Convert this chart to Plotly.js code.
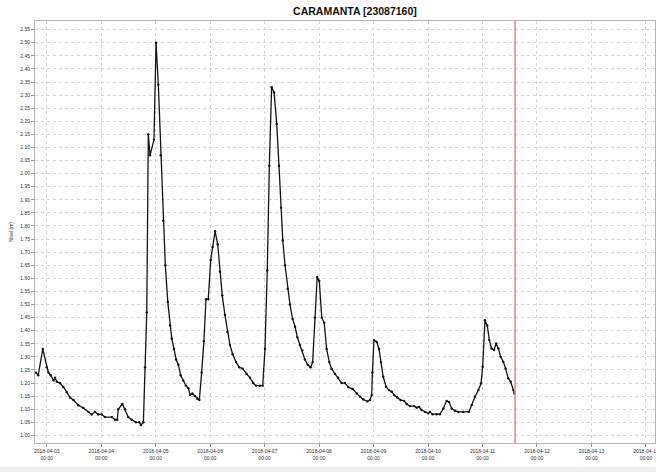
<!DOCTYPE html>
<html>
<head>
<meta charset="utf-8">
<script src="https://cdn.plot.ly/plotly-3.0.1.min.js"></script>
<style>
  html, body { margin: 0; padding: 0; background: #ffffff; }
  #chart { width: 656px; height: 472px; }
</style>
</head>
<body>
<div id="chart"></div>
<script>
const chartTitle = "CARAMANTA [23087160]";
const yTitle = "Nivel (m)";

const times = [
  "2018-04-02 19:15","2018-04-02 20:15","2018-04-02 22:15","2018-04-03 00:00","2018-04-03 00:45",
  "2018-04-03 01:45","2018-04-03 03:00","2018-04-03 03:40","2018-04-03 04:25","2018-04-03 05:50",
  "2018-04-03 07:20","2018-04-03 08:50","2018-04-03 10:15","2018-04-03 11:45","2018-04-03 13:55",
  "2018-04-03 16:05","2018-04-03 18:20","2018-04-03 19:50","2018-04-03 21:15","2018-04-03 22:45",
  "2018-04-04 00:15","2018-04-04 01:40","2018-04-04 04:40","2018-04-04 06:05","2018-04-04 07:05",
  "2018-04-04 07:30","2018-04-04 09:20","2018-04-04 10:30","2018-04-04 11:55","2018-04-04 13:25",
  "2018-04-04 15:20","2018-04-04 16:45","2018-04-04 17:30","2018-04-04 18:35","2018-04-04 19:20",
  "2018-04-04 20:05","2018-04-04 20:45","2018-04-04 21:30","2018-04-04 23:15","2018-04-05 00:10",
  "2018-04-05 01:10","2018-04-05 02:15","2018-04-05 03:20","2018-04-05 04:15","2018-04-05 05:20",
  "2018-04-05 06:20","2018-04-05 07:05","2018-04-05 08:05","2018-04-05 09:00","2018-04-05 10:00",
  "2018-04-05 11:00","2018-04-05 12:10","2018-04-05 13:20","2018-04-05 14:25","2018-04-05 15:10",
  "2018-04-05 16:10","2018-04-05 17:20","2018-04-05 18:20","2018-04-05 19:15","2018-04-05 20:15",
  "2018-04-05 21:15","2018-04-05 22:10","2018-04-05 23:10","2018-04-06 00:15","2018-04-06 01:05",
  "2018-04-06 02:10","2018-04-06 03:20","2018-04-06 04:20","2018-04-06 05:20","2018-04-06 06:30",
  "2018-04-06 07:35","2018-04-06 08:45","2018-04-06 09:55","2018-04-06 11:25","2018-04-06 12:50",
  "2018-04-06 14:20","2018-04-06 16:05","2018-04-06 17:35","2018-04-06 19:00","2018-04-06 20:10",
  "2018-04-06 21:55","2018-04-06 23:10","2018-04-07 00:10","2018-04-07 01:10","2018-04-07 02:05",
  "2018-04-07 03:05","2018-04-07 04:10","2018-04-07 05:20","2018-04-07 06:20","2018-04-07 07:15",
  "2018-04-07 08:00","2018-04-07 09:00","2018-04-07 10:10","2018-04-07 11:10","2018-04-07 12:20",
  "2018-04-07 13:25","2018-04-07 14:25","2018-04-07 15:35","2018-04-07 16:35","2018-04-07 17:45",
  "2018-04-07 19:00","2018-04-07 20:15","2018-04-07 21:10","2018-04-07 22:10","2018-04-07 23:10",
  "2018-04-08 00:05","2018-04-08 01:10","2018-04-08 02:15","2018-04-08 03:20","2018-04-08 04:30",
  "2018-04-08 05:30","2018-04-08 07:00","2018-04-08 08:25","2018-04-08 09:55","2018-04-08 11:25",
  "2018-04-08 12:50","2018-04-08 14:50","2018-04-08 16:35","2018-04-08 18:00","2018-04-08 19:30",
  "2018-04-08 21:15","2018-04-08 22:25","2018-04-08 23:10","2018-04-08 23:30","2018-04-09 00:10",
  "2018-04-09 01:25","2018-04-09 02:25","2018-04-09 03:15","2018-04-09 04:15","2018-04-09 05:30",
  "2018-04-09 06:45","2018-04-09 08:00","2018-04-09 09:05","2018-04-09 10:25","2018-04-09 11:55",
  "2018-04-09 13:25","2018-04-09 14:35","2018-04-09 16:00","2018-04-09 17:55","2018-04-09 19:00",
  "2018-04-09 20:00","2018-04-09 21:10","2018-04-09 22:40","2018-04-10 00:05","2018-04-10 00:50",
  "2018-04-10 02:00","2018-04-10 03:50","2018-04-10 05:15","2018-04-10 06:45","2018-04-10 08:10",
  "2018-04-10 09:15","2018-04-10 10:25","2018-04-10 11:50","2018-04-10 13:20","2018-04-10 15:30",
  "2018-04-10 18:00","2018-04-10 19:15","2018-04-10 20:40","2018-04-10 22:10","2018-04-10 23:20",
  "2018-04-11 00:05","2018-04-11 01:05","2018-04-11 02:05","2018-04-11 03:00","2018-04-11 04:00",
  "2018-04-11 05:05","2018-04-11 06:00","2018-04-11 07:00","2018-04-11 08:00","2018-04-11 09:10",
  "2018-04-11 10:10","2018-04-11 11:20","2018-04-11 12:25","2018-04-11 13:35","2018-04-11 14:05"
];

const levels = [
  1.24,1.23,1.33,1.26,1.24,
  1.23,1.21,1.22,1.205,1.20,
  1.185,1.165,1.145,1.135,1.115,
  1.105,1.09,1.08,1.09,1.08,
  1.08,1.07,1.07,1.06,1.06,
  1.10,1.12,1.10,1.07,1.06,
  1.05,1.05,1.04,1.05,1.26,
  1.47,2.15,2.07,2.13,2.50,
  2.34,2.07,1.82,1.65,1.51,
  1.42,1.37,1.33,1.29,1.27,
  1.23,1.21,1.19,1.18,1.155,
  1.16,1.15,1.14,1.135,1.24,
  1.36,1.52,1.52,1.67,1.72,
  1.78,1.73,1.625,1.535,1.46,
  1.395,1.345,1.31,1.28,1.26,
  1.255,1.235,1.22,1.20,1.19,
  1.19,1.19,1.33,1.63,2.03,
  2.33,2.31,2.19,2.03,1.87,
  1.745,1.65,1.56,1.50,1.445,
  1.415,1.375,1.345,1.325,1.29,
  1.27,1.26,1.28,1.45,1.605,
  1.59,1.45,1.43,1.33,1.28,
  1.255,1.235,1.22,1.20,1.20,
  1.185,1.177,1.16,1.148,1.137,
  1.13,1.135,1.154,1.24,1.364,
  1.357,1.33,1.28,1.224,1.186,
  1.173,1.167,1.154,1.145,1.135,
  1.132,1.12,1.112,1.112,1.106,
  1.109,1.097,1.09,1.084,1.09,
  1.081,1.081,1.081,1.103,1.132,
  1.128,1.103,1.094,1.09,1.09,
  1.09,1.116,1.148,1.173,1.198,
  1.262,1.44,1.42,1.364,1.332,
  1.326,1.351,1.332,1.30,1.281,
  1.256,1.218,1.205,1.173,1.16
];

const nowMarker = "2018-04-11 14:20";

const xTickVals = ["2018-04-03","2018-04-04","2018-04-05","2018-04-06","2018-04-07","2018-04-08",
                   "2018-04-09","2018-04-10","2018-04-11","2018-04-12","2018-04-13","2018-04-14"];
const xTickText = xTickVals.map(d => d + "<br>00:00");

const trace = {
  x: times, y: levels, type: "scatter", mode: "lines+markers",
  line: { color: "#151515", width: 1.3 },
  marker: { color: "#151515", size: 2.4 },
  hoverinfo: "skip", showlegend: false
};

const layout = {
  width: 656, height: 472,
  margin: { l: 35, r: 1, t: 21, b: 29, pad: 0 },
  paper_bgcolor: "#ffffff", plot_bgcolor: "#ffffff",
  font: { family: "Liberation Sans, Arial, sans-serif", color: "#333333", size: 5 },
  title: { text: "<b>" + chartTitle + "</b>", x: 0.516, xref: "paper", xanchor: "center",
           y: 0.976, yanchor: "middle", font: { size: 10.5, color: "#111111" } },
  xaxis: {
    type: "date", range: ["2018-04-02 18:50", "2018-04-14 04:00"],
    tickmode: "array", tickvals: xTickVals, ticktext: xTickText,
    ticklabeloverflow: "allow",
    ticks: "outside", ticklen: 3, tickcolor: "#999999",
    tickfont: { size: 5, color: "#333333" },
    showgrid: true, gridcolor: "#d6d6d6", griddash: "dot", gridwidth: 1,
    showline: true, linecolor: "#b5b5b5", linewidth: 1, mirror: true,
    zeroline: false
  },
  yaxis: {
    range: [0.971, 2.583], dtick: 0.05, tick0: 1.0, tickformat: ".2f",
    ticks: "outside", ticklen: 3, tickcolor: "#999999",
    tickfont: { size: 5, color: "#333333" },
    showgrid: true, gridcolor: "#d6d6d6", griddash: "dot", gridwidth: 1,
    showline: true, linecolor: "#b5b5b5", linewidth: 1, mirror: true,
    zeroline: false,
    title: { text: yTitle, font: { size: 5, color: "#333333" }, standoff: 6 }
  },
  shapes: [
    { type: "line", xref: "x", yref: "paper", x0: nowMarker, x1: nowMarker, y0: 0, y1: 1,
      line: { color: "#f08080", width: 1.5 } },
    { type: "rect", xref: "paper", yref: "paper", x0: -0.06, x1: 1.01, y0: -0.056, y1: -0.075,
      fillcolor: "#efefef", line: { width: 0 }, layer: "below" }
  ]
};

Plotly.newPlot("chart", [trace], layout, { staticPlot: true, displayModeBar: false });
</script>
</body>
</html>
